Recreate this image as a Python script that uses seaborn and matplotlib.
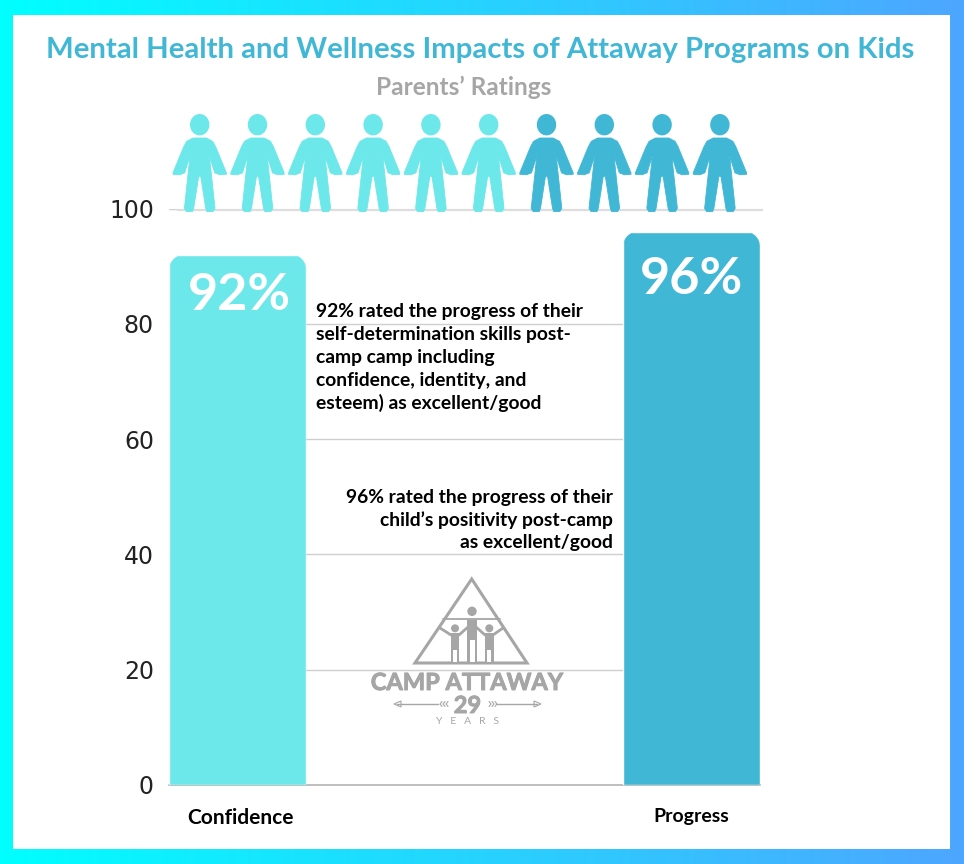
import numpy as np
import pandas as pd
import matplotlib
matplotlib.use("Agg")
import matplotlib.pyplot as plt
import matplotlib.patheffects as pe
import seaborn as sns
from matplotlib.patches import Polygon, Ellipse, Rectangle, Circle
from matplotlib.path import Path
from matplotlib.transforms import IdentityTransform, ScaledTranslation

categories = ["Confidence", "Progress"]
values = [92, 96]
value_labels = ["92%", "96%"]
bar_colors = ["#6CE7EA", "#41B7D6"]
icon_fill = ["#6CE7EA"] * 6 + ["#41B7D6"] * 4
title = "Mental Health and Wellness Impacts of Attaway Programs on Kids"
subtitle = "Parents’ Ratings"
note_one = ["92% rated the progress of their", "self-determination skills post-",
            "camp camp including", "confidence, identity, and", "esteem) as excellent/good"]
note_two = ["96% rated the progress of their", "child’s positivity post-camp", "as excellent/good"]

sns.set_theme(style="whitegrid")
FONT = "Lato"
W, H = 964, 864
fig = plt.figure(figsize=(W / 100, H / 100), dpi=100)

# gradient frame and white panel
bg = fig.add_axes([0, 0, 1, 1], zorder=0)
bg.axis("off")
c0, c1 = np.array([0, 255, 255]) / 255, np.array([77, 166, 255]) / 255
t = np.linspace(0, 1, 256)[None, :, None]
bg.imshow(c0 + (c1 - c0) * t, extent=(0, W, H, 0), aspect="auto")
bg.add_patch(Rectangle((13, 15), 937, 834, fc="white", ec="none"))
bg.set_xlim(0, W)
bg.set_ylim(H, 0)

# chart
ax = fig.add_axes([169.2 / W, 1 - 784.8 / H, 590.8 / W, 576.3 / H], zorder=1)
ax.patch.set_alpha(0)
df = pd.DataFrame({"category": categories, "value": values})
sns.barplot(data=df, x="category", y="value", hue="category", palette=bar_colors,
            order=categories, hue_order=categories, width=0.302, legend=False,
            saturation=1, ax=ax, zorder=3)
ax.set_xlim(-0.151, 1.151)
ax.set_ylim(0, 100)
ax.set_yticks(range(0, 101, 20))
ax.set_xlabel("")
ax.set_ylabel("")
ax.grid(axis="x", visible=False)
ax.grid(axis="y", color="#CFCFCF", lw=1)
ax.set_axisbelow(True)
for s in ["top", "left", "right"]:
    ax.spines[s].set_visible(False)
ax.spines["bottom"].set_color("#B5B5B5")
ax.spines["bottom"].set_linewidth(1.2)
ax.tick_params(axis="y", length=0, pad=11, labelsize=17, labelcolor="#222222")
ax.tick_params(axis="x", length=0, pad=16.5, labelsize=14.5, labelcolor="black")
for lb in ax.get_yticklabels():
    lb.set_fontfamily("DejaVu Sans")
xlabs = ax.get_xticklabels()
for lb in xlabs:
    lb.set_fontfamily(FONT)
    lb.set_fontweight("bold")
xlabs[0].set_fontsize(15)
xlabs[0].set_transform(xlabs[0].get_transform() + ScaledTranslation(3 / 100, 0, fig.dpi_scale_trans))
xlabs[1].set_fontsize(14)

# round the top corners of the bars
fig.canvas.draw()
R = 15.0
K = 0.55 * R
for bar in ax.patches:
    bb = bar.get_window_extent()
    x0, x1, y0, y1 = bb.x0, bb.x1, bb.y0 - 5, bb.y1
    verts = [(x0, y0), (x0, y1 - R), (x0, y1 - R + K), (x0 + R - K, y1), (x0 + R, y1),
             (x1 - R, y1), (x1 - R + K, y1), (x1, y1 - R + K), (x1, y1 - R), (x1, y0), (x0, y0)]
    codes = [Path.MOVETO, Path.LINETO, Path.CURVE4, Path.CURVE4, Path.CURVE4,
             Path.LINETO, Path.CURVE4, Path.CURVE4, Path.CURVE4, Path.LINETO, Path.CLOSEPOLY]
    bar.set_clip_path(Path(verts, codes), IdentityTransform())

# overlay in pixel coordinates
ov = fig.add_axes([0, 0, 1, 1], zorder=2)
ov.axis("off")
ov.set_xlim(0, W)
ov.set_ylim(H, 0)

ov.text(480.5, 50, title, ha="center", va="center", color="#41B7D6", fontsize=21.2,
        fontweight="bold", family=FONT)
ov.text(464, 87, subtitle, ha="center", va="center", color="#A6A6A6", fontsize=17.6,
        fontweight="bold", family=FONT)
ov.plot([177, 763], [210, 210], color="#DDDDDD", lw=1.6, zorder=1, solid_capstyle="butt")

half = [(0, -36.8), (6.7, -36.8), (13, -33.5), (16, -28), (26.7, -2), (26.7, -0.5), (20, 0),
        (15, -2), (9.7, -19), (15.3, 33.5), (13.3, 36.8), (7.3, 36.8), (6, 33.5), (1, 1.5)]
outline = list(half) + [(-x, y) for x, y in reversed(half)]
for i, col in enumerate(icon_fill):
    cx = 199.7 + i * 57.8
    pts = [(cx + x, 174.8 + y) for x, y in outline]
    ov.add_patch(Polygon(pts, closed=True, fc=col, ec=col, lw=0.6, joinstyle="round", zorder=2))
    ov.add_patch(Ellipse((cx, 124.7), 19.4, 21.4, fc=col, ec="none", zorder=2))

for (xc, yc, lab) in zip([239, 691], [296, 280], value_labels):
    ov.text(xc, yc, lab, ha="center", va="center", color="white", fontsize=37.5,
            fontweight="bold", family=FONT)

for i, line in enumerate(note_one):
    ov.text(316, 312 + i * 22.7, line, ha="left", va="center", color="black",
            fontsize=13.9, fontweight="bold", family=FONT)
for i, line in enumerate(note_two):
    ov.text(612.5, 497 + i * 22.7, line, ha="right", va="center", color="black",
            fontsize=13.9, fontweight="bold", family=FONT)

# logo
G = "#A6A6A6"
ov.add_patch(Polygon([(471.7, 579), (415, 663), (527, 663)], closed=True, fc="none", ec=G, lw=2.2))
ov.plot([443, 500], [619, 619], color=G, lw=1.3)
for hx, hy, hr, bx, bw, by, bmid, bbot in [(472, 611.3, 4.7, 467.3, 9.4, 620, 640, 661.5),
                                            (455, 628.3, 4, 450.7, 8.6, 633, 650, 661.5),
                                            (489.3, 628.3, 4, 485, 8.6, 633, 650, 661.5)]:
    ov.add_patch(Circle((hx, hy), hr, fc=G, ec="none"))
    ov.add_patch(Rectangle((bx, by), bw, bbot - by, fc=G, ec="none"))
    ov.add_patch(Rectangle((bx + 2.2, bmid), bw - 4.4, bbot - bmid, fc="white", ec="none"))
for xs, ys in [((440, 451), (628, 635)), ((459, 468), (635, 627)), ((476, 485), (627, 635)), ((493, 503), (635, 628))]:
    ov.plot(xs, ys, color=G, lw=2)
heavy = [pe.withStroke(linewidth=0.7, foreground=G)]
ov.text(467, 682.5, "CAMP ATTAWAY", ha="center", va="center", color=G, fontsize=17,
        fontweight="bold", family=FONT, path_effects=heavy)
ov.text(467.5, 705.5, "29", ha="center", va="center", color=G, fontsize=17, fontweight="bold",
        family=FONT, path_effects=heavy)
ov.text(467.5, 721, "Y   E   A   R   S", ha="center", va="center", color=G, fontsize=7.5, family=FONT)
ov.plot([397, 438], [704, 704], color=G, lw=1)
ov.plot([497, 537], [704, 704], color=G, lw=1)
for xc in [440, 443, 446]:
    ov.plot([xc + 2, xc, xc + 2], [701.5, 704, 706.5], color=G, lw=0.8)
for xc in [491, 494, 497]:
    ov.plot([xc - 2, xc, xc - 2], [701.5, 704, 706.5], color=G, lw=0.8)
ov.add_patch(Polygon([(394, 704), (401, 701), (401, 707)], closed=True, fc="white", ec=G, lw=0.8))
ov.add_patch(Polygon([(541, 704), (534, 701), (534, 707)], closed=True, fc="white", ec=G, lw=0.8))

fig.savefig("out.png", dpi=100)
